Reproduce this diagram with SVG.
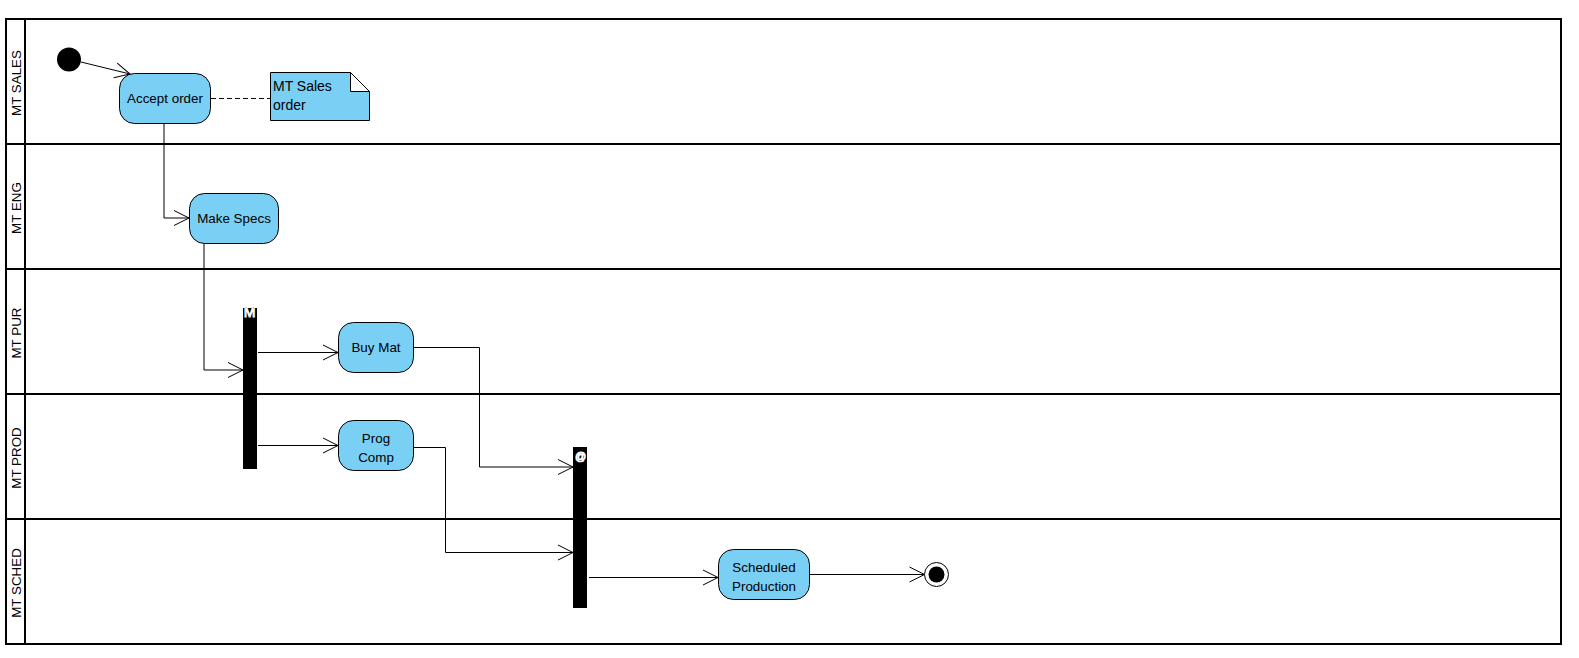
<svg xmlns="http://www.w3.org/2000/svg" width="1579" height="658" viewBox="0 0 1579 658">
<style>
  .lane{fill:none;stroke:#000;stroke-width:2}
  .lbl{font-family:"Liberation Sans",Arial,sans-serif;font-size:13.4px;fill:#000;text-anchor:middle}
  .act{fill:#7ACFF5;stroke:#000;stroke-width:1}
  .atx{font-family:"Liberation Sans",Arial,sans-serif;font-size:13.4px;fill:#000;text-anchor:middle}
  .ntx{font-family:"Liberation Sans",Arial,sans-serif;font-size:14px;fill:#000}
  .con{fill:none;stroke:#000;stroke-width:1}
  .bar{fill:#000}
  .btx{font-family:"Liberation Sans",Arial,sans-serif;fill:#000;stroke:#fff;stroke-width:1;text-anchor:middle}
</style>
<defs>
  <marker id="arr" markerUnits="userSpaceOnUse" markerWidth="17" markerHeight="17" refX="15" refY="7.5" orient="auto" overflow="visible">
    <path d="M0,0 L15,7.5 L0,15" fill="none" stroke="#000" stroke-width="1"/>
  </marker>
</defs>
<rect width="1579" height="658" fill="#fff"/>
<g id="swimlanes">
  <rect class="lane" x="6" y="19" width="1555" height="625"/>
  <line class="lane" x1="25" y1="19" x2="25" y2="644"/>
  <line class="lane" x1="6" y1="144" x2="1561" y2="144"/>
  <line class="lane" x1="6" y1="269" x2="1561" y2="269"/>
  <line class="lane" x1="6" y1="394" x2="1561" y2="394"/>
  <line class="lane" x1="6" y1="519" x2="1561" y2="519"/>
  <text class="lbl" transform="translate(21,83) rotate(-90)">MT SALES</text>
  <text class="lbl" transform="translate(21,208) rotate(-90)">MT ENG</text>
  <text class="lbl" transform="translate(21,333) rotate(-90)">MT PUR</text>
  <text class="lbl" transform="translate(21,458) rotate(-90)">MT PROD</text>
  <text class="lbl" transform="translate(21,583) rotate(-90)">MT SCHED</text>
</g>
<g id="connectors">
  <path class="con" d="M81,62 L130,74" marker-end="url(#arr)"/>
  <path class="con" d="M164,124 V218 H189" marker-end="url(#arr)"/>
  <path class="con" d="M204,243 V370 H243" marker-end="url(#arr)"/>
  <path class="con" d="M258,352.5 H338" marker-end="url(#arr)"/>
  <path class="con" d="M258,445.5 H338" marker-end="url(#arr)"/>
  <path class="con" d="M413,347.5 H479.5 V467 H573" marker-end="url(#arr)"/>
  <path class="con" d="M413,447.5 H445.5 V552.5 H573" marker-end="url(#arr)"/>
  <path class="con" d="M589,577.5 H718" marker-end="url(#arr)"/>
  <path class="con" d="M809,574.5 H924.5" marker-end="url(#arr)"/>
  <path class="con" d="M211,98.5 H270" stroke-dasharray="5,3"/>
</g>
<g id="initial">
  <circle cx="69" cy="59.5" r="12" fill="#000"/>
</g>
<g id="accept-order">
  <rect class="act" x="119.5" y="73.5" width="91" height="50" rx="15"/>
  <text class="atx" x="165" y="103">Accept order</text>
</g>
<g id="note">
  <path d="M270.5,72.5 H350.5 L369.5,91.5 V120.5 H270.5 Z" fill="#7ACFF5" stroke="#000" stroke-width="1"/>
  <path d="M350.5,72.5 V91.5 H369.5 Z" fill="#fff" stroke="#000" stroke-width="1"/>
  <text class="ntx" x="273" y="91">MT Sales</text>
  <text class="ntx" x="273" y="110">order</text>
</g>
<g id="make-specs">
  <rect class="act" x="189.5" y="193.5" width="89" height="50" rx="15"/>
  <text class="atx" x="234" y="223">Make Specs</text>
</g>
<g id="fork">
  <rect class="bar" x="243" y="308" width="14" height="161"/>
  <text class="btx" x="249.5" y="316.5" font-size="14">M</text>
</g>
<g id="buy-mat">
  <rect class="act" x="338.5" y="322.5" width="75" height="50" rx="15"/>
  <text class="atx" x="376" y="352">Buy Mat</text>
</g>
<g id="prog-comp">
  <rect class="act" x="338.5" y="420.5" width="75" height="50" rx="15"/>
  <text class="atx" x="376" y="442.5">Prog</text>
  <text class="atx" x="376" y="461.5">Comp</text>
</g>
<g id="join">
  <rect class="bar" x="573" y="447" width="14" height="161"/>
  <text class="btx" x="580.5" y="459.5" font-size="11">@</text>
</g>
<g id="scheduled-production">
  <rect class="act" x="718.5" y="549.5" width="91" height="50" rx="15"/>
  <text class="atx" x="764" y="571.5">Scheduled</text>
  <text class="atx" x="764" y="590.5">Production</text>
</g>
<g id="final">
  <circle cx="936.5" cy="574.5" r="12" fill="#fff" stroke="#000" stroke-width="1"/>
  <circle cx="936.5" cy="574.5" r="8" fill="#000"/>
</g>
</svg>
